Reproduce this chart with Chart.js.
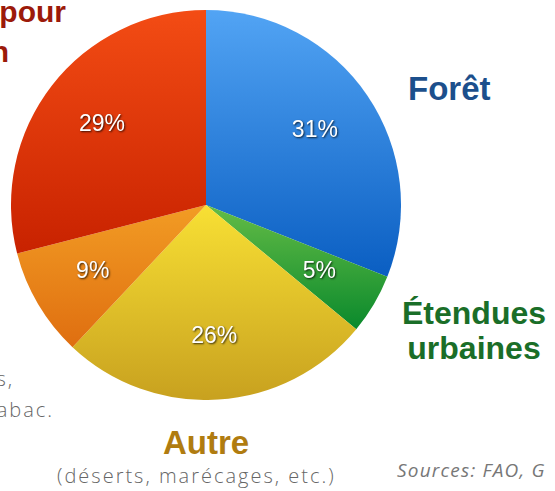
<!DOCTYPE html>
<html>
<head>
<meta charset="utf-8">
<script src="https://cdn.jsdelivr.net/npm/chart.js@4.4.1/dist/chart.umd.min.js"></script>
<style>
  body { margin: 0; width: 555px; height: 491px; overflow: hidden; background: #fff; position: relative; }
  .t { position: absolute; white-space: nowrap; line-height: 1; }
  .big { font-family: "Liberation Sans", Arial, sans-serif; font-weight: bold; font-size: 32px; }
  .note { font-family: "Open Sans", sans-serif; font-weight: 300; font-size: 20px; letter-spacing: 2px; color: #666; }
  #wrap { position: absolute; left: 11px; top: 10px; width: 390px; height: 390px; }
</style>
</head>
<body>
<div class="t big" style="right:489px; top:-3px; color:#9c1a0a; font-size:30px;">pour</div>
<div class="t big" style="right:546px; top:37px; color:#9c1a0a; font-size:30px;">n</div>
<div class="t big" style="left:408px; top:72px; color:#1c4f8c; font-size:33px;">Forêt</div>
<div class="t big" style="left:394px; top:298px; width:160px; text-align:center; color:#1a6e28; line-height:35px; margin-top:-2px;">Étendues<br>urbaines</div>
<div class="t big" style="left:163px; top:426px; color:#b07c10; font-size:33px;">Autre</div>
<div class="t note" style="left:57px; top:466px;">(déserts, marécages, etc.)</div>
<div class="t note" style="right:541px; top:369px;">ts,</div>
<div class="t note" style="right:501px; top:400px;">abac.</div>
<div class="t note" style="left:397px; top:461px; font-size:19px; letter-spacing:1.2px; font-style:italic; font-weight:400; color:#777;">Sources: FAO, G</div>

<div id="wrap"><canvas id="pieChart"></canvas></div>

<script>
const categories = ['Forêt', 'Étendues urbaines', 'Autre', 'Cultures non alimentaires', 'Cultures pour l\'alimentation'];
const shares = [31, 5, 26, 9, 29];
const topColors = ['#52a4f4', '#64bc46', '#f8e034', '#f29c24', '#f34c14'];
const bottomColors = ['#0a5ec2', '#0a892c', '#c8a11f', '#df6e10', '#c82200'];

// vertical extent of each slice, as a fraction of the radius (-1 top .. 1 bottom)
function sliceRange(i) {
  const total = shares.reduce((a, b) => a + b, 0);
  let before = 0;
  for (let k = 0; k < i; k++) before += shares[k];
  const a0 = before / total * 2 * Math.PI;
  const a1 = (before + shares[i]) / total * 2 * Math.PI;
  let ys = [0, -Math.cos(a0), -Math.cos(a1)];
  if (a0 <= Math.PI && a1 >= Math.PI) ys.push(1);
  if (a0 <= 0) ys.push(-1);
  return [Math.min(...ys), Math.max(...ys)];
}

function sliceFill(ctx) {
  const chart = ctx.chart;
  const area = chart.chartArea;
  const i = ctx.dataIndex;
  if (!area) return topColors[i];
  const cy = (area.top + area.bottom) / 2;
  const r = Math.min(area.right - area.left, area.bottom - area.top) / 2;
  const [y0, y1] = sliceRange(i);
  const g = chart.ctx.createLinearGradient(0, cy + y0 * r, 0, cy + y1 * r);
  g.addColorStop(0, topColors[i]);
  g.addColorStop(1, bottomColors[i]);
  return g;
}

const percentLabels = {
  id: 'percentLabels',
  afterDatasetsDraw(chart) {
    const c = chart.ctx;
    const meta = chart.getDatasetMeta(0);
    c.save();
    c.font = '23px "Liberation Sans", Arial, sans-serif';
    c.textAlign = 'center';
    c.textBaseline = 'middle';
    meta.data.forEach((arc, i) => {
      const p = arc.getProps(['x', 'y', 'startAngle', 'endAngle', 'outerRadius'], true);
      const mid = (p.startAngle + p.endAngle) / 2;
      const d = p.outerRadius * 0.675;
      const x = p.x + Math.cos(mid) * d;
      const y = p.y + Math.sin(mid) * d;
      c.shadowColor = 'rgba(0,0,0,0.75)';
      c.shadowBlur = 2;
      c.shadowOffsetX = 1;
      c.shadowOffsetY = 1;
      c.fillStyle = '#fff';
      c.fillText(shares[i] + '%', x, y);
    });
    c.restore();
  }
};

const ctx = document.getElementById('pieChart');

new Chart(ctx, {
  type: 'pie',
  data: {
    labels: categories,
    datasets: [{
      data: shares,
      backgroundColor: sliceFill,
      borderWidth: 0
    }]
  },
  options: {
    responsive: true,
    maintainAspectRatio: false,
    animation: false,
    layout: { padding: 0 },
    plugins: {
      legend: { display: false },
      tooltip: { enabled: false }
    }
  },
  plugins: [percentLabels]
});
</script>
</body>
</html>
